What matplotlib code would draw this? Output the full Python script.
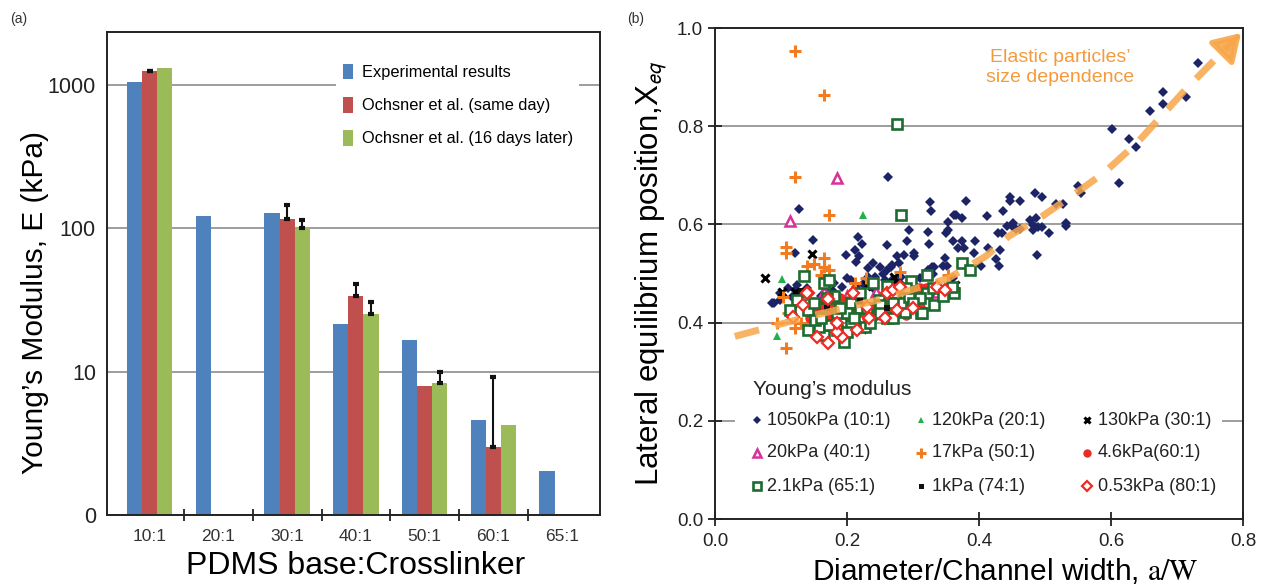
import numpy as np
import matplotlib
matplotlib.use("Agg")
import matplotlib.pyplot as plt
from matplotlib.patches import Patch, Rectangle

plt.rcParams["font.family"] = ["Liberation Sans", "DejaVu Sans"]
plt.rcParams["mathtext.fontset"] = "stix"

# ---------------- panel (a) data ----------------
ratios = ["10:1", "20:1", "30:1", "40:1", "50:1", "60:1", "65:1"]
experimental = [1050, 122, 129, 21.4, 16.7, 4.6, 2.04]
same_day = [1250, np.nan, 117, 34, 7.9, 2.96, np.nan]
same_day_err = [15, np.nan, 28, 7, 0, 6.3, np.nan]
later16 = [1310, np.nan, 100, 25.3, 8.4, 4.24, np.nan]
later16_err = [0, np.nan, 14, 5.2, 1.5, 0, np.nan]

# ---------------- panel (b) data ----------------
e1050_x = [0.732, 0.679, 0.679, 0.659, 0.714, 0.602, 0.627, 0.638, 0.612, 0.550, 0.555,
           0.262, 0.127, 0.326, 0.327, 0.380, 0.412, 0.436, 0.447, 0.447, 0.462, 0.485,
           0.495, 0.517, 0.527, 0.477, 0.486, 0.532, 0.532, 0.489, 0.506, 0.452, 0.456,
           0.435, 0.429, 0.432, 0.488, 0.353, 0.362, 0.365, 0.374, 0.353, 0.350, 0.323,
           0.294, 0.291, 0.324, 0.361, 0.374, 0.394, 0.368, 0.377, 0.392, 0.413, 0.403,
           0.430, 0.425, 0.348, 0.346, 0.351, 0.302, 0.302, 0.286, 0.276, 0.260, 0.216,
           0.222, 0.212, 0.198, 0.218, 0.213, 0.148, 0.121, 0.328, 0.332, 0.322, 0.279,
           0.267, 0.260, 0.255, 0.257, 0.243, 0.268, 0.281, 0.231, 0.224, 0.213, 0.206,
           0.193, 0.178, 0.169, 0.160, 0.299, 0.089, 0.099, 0.121, 0.135, 0.086, 0.098,
           0.111, 0.124, 0.117, 0.232, 0.239, 0.250, 0.268, 0.452, 0.442, 0.462, 0.482,
           0.482, 0.495, 0.140, 0.180, 0.200, 0.240, 0.280, 0.310, 0.330, 0.360]
e1050_y = [0.929, 0.870, 0.845, 0.831, 0.859, 0.794, 0.774, 0.758, 0.684, 0.678, 0.664,
           0.696, 0.631, 0.645, 0.627, 0.648, 0.617, 0.627, 0.656, 0.648, 0.648, 0.664,
           0.656, 0.642, 0.642, 0.609, 0.613, 0.603, 0.596, 0.595, 0.582, 0.595, 0.590,
           0.582, 0.582, 0.548, 0.538, 0.605, 0.619, 0.619, 0.613, 0.589, 0.582, 0.584,
           0.589, 0.566, 0.560, 0.566, 0.566, 0.566, 0.552, 0.552, 0.541, 0.552, 0.515,
           0.515, 0.530, 0.531, 0.515, 0.515, 0.541, 0.535, 0.538, 0.535, 0.559, 0.575,
           0.561, 0.547, 0.538, 0.535, 0.524, 0.569, 0.541, 0.513, 0.513, 0.507, 0.521,
           0.513, 0.507, 0.500, 0.486, 0.493, 0.486, 0.493, 0.493, 0.479, 0.472, 0.486,
           0.472, 0.465, 0.472, 0.455, 0.473, 0.440, 0.447, 0.466, 0.460, 0.440, 0.460,
           0.470, 0.477, 0.452, 0.511, 0.521, 0.513, 0.517, 0.603, 0.597, 0.591, 0.599,
           0.589, 0.595, 0.470, 0.480, 0.490, 0.470, 0.480, 0.490, 0.500, 0.490]

e120_x = [0.224, 0.101, 0.094, 0.140, 0.165, 0.210, 0.255, 0.190, 0.300]
e120_y = [0.619, 0.489, 0.373, 0.452, 0.470, 0.468, 0.462, 0.445, 0.455]

e130_x = [0.076, 0.147, 0.271, 0.364, 0.230, 0.238, 0.101, 0.117, 0.121, 0.223, 0.268, 0.160]
e130_y = [0.491, 0.540, 0.493, 0.477, 0.477, 0.475, 0.462, 0.426, 0.463, 0.387, 0.478, 0.390]

e20_x = [0.185, 0.114, 0.165, 0.244, 0.336, 0.200]
e20_y = [0.695, 0.607, 0.463, 0.463, 0.463, 0.455]

e17_x = [0.121, 0.165, 0.121, 0.173, 0.108, 0.108, 0.139, 0.165, 0.165, 0.173, 0.229,
         0.280, 0.103, 0.094, 0.108, 0.121, 0.212, 0.353, 0.160, 0.150, 0.130, 0.110]
e17_y = [0.953, 0.864, 0.696, 0.619, 0.554, 0.542, 0.515, 0.531, 0.513, 0.507, 0.491,
         0.503, 0.452, 0.399, 0.348, 0.389, 0.481, 0.497, 0.497, 0.520, 0.400, 0.420]

e46_x = [0.144, 0.154, 0.164, 0.174, 0.184, 0.194, 0.202, 0.210, 0.220, 0.230, 0.240,
         0.250, 0.260, 0.270, 0.280, 0.290, 0.300, 0.311, 0.200, 0.190, 0.159, 0.280,
         0.290, 0.306, 0.311, 0.170, 0.210, 0.190, 0.230, 0.260, 0.160, 0.175, 0.180,
         0.200, 0.215, 0.235, 0.245, 0.265, 0.275, 0.300, 0.320, 0.290, 0.310]
e46_y = [0.409, 0.419, 0.426, 0.422, 0.426, 0.429, 0.432, 0.429, 0.422, 0.412, 0.412,
         0.415, 0.422, 0.422, 0.429, 0.432, 0.436, 0.432, 0.415, 0.419, 0.436, 0.470,
         0.470, 0.470, 0.470, 0.440, 0.440, 0.450, 0.409, 0.455, 0.410, 0.405, 0.440,
         0.445, 0.445, 0.430, 0.430, 0.440, 0.450, 0.455, 0.470, 0.415, 0.420]

e21_x = [0.276, 0.282, 0.374, 0.386, 0.135, 0.165, 0.362, 0.312, 0.288, 0.195, 0.165,
         0.141, 0.321, 0.321, 0.297, 0.206, 0.158, 0.185, 0.261, 0.206, 0.185, 0.141,
         0.124, 0.173, 0.239, 0.271, 0.282, 0.332, 0.359, 0.227, 0.152, 0.173, 0.200,
         0.248, 0.294, 0.114, 0.313, 0.220, 0.250, 0.180, 0.150, 0.170, 0.190, 0.210,
         0.230, 0.250, 0.270, 0.290, 0.310, 0.330, 0.160, 0.220, 0.260, 0.300, 0.345,
         0.200, 0.235, 0.270]
e21_y = [0.804, 0.619, 0.521, 0.507, 0.495, 0.481, 0.460, 0.419, 0.422, 0.360, 0.375,
         0.385, 0.460, 0.497, 0.484, 0.395, 0.391, 0.385, 0.409, 0.440, 0.419, 0.426,
         0.446, 0.487, 0.481, 0.460, 0.440, 0.436, 0.473, 0.391, 0.405, 0.395, 0.419,
         0.446, 0.453, 0.426, 0.419, 0.430, 0.435, 0.455, 0.440, 0.450, 0.430, 0.410,
         0.430, 0.420, 0.440, 0.470, 0.450, 0.470, 0.410, 0.460, 0.475, 0.440, 0.455,
         0.380, 0.400, 0.410]

e1_x = [0.130, 0.220, 0.260, 0.170]
e1_y = [0.465, 0.445, 0.430, 0.430]

e053_x = [0.141, 0.171, 0.154, 0.171, 0.192, 0.185, 0.215, 0.118, 0.209, 0.139, 0.133,
          0.230, 0.233, 0.258, 0.260, 0.270, 0.280, 0.336, 0.348, 0.276, 0.300, 0.185]
e053_y = [0.460, 0.448, 0.371, 0.359, 0.371, 0.381, 0.385, 0.412, 0.460, 0.460, 0.436,
          0.432, 0.409, 0.409, 0.460, 0.467, 0.473, 0.473, 0.466, 0.426, 0.429, 0.399]

# hand-drawn trend guide
guide_x = [0.030, 0.135, 0.250, 0.353, 0.410, 0.445, 0.495, 0.550, 0.590, 0.640, 0.713, 0.775]
guide_y = [0.372, 0.410, 0.447, 0.490, 0.535, 0.576, 0.616, 0.667, 0.706, 0.767, 0.875, 0.960]
guide_tip = (0.797, 0.990)

BLUE, RED, GREEN = "#4f81bd", "#c0504d", "#9bbb59"
ORANGE_GUIDE = "#f7a64a"
GRID = "#8c8c8c"

fig = plt.figure(figsize=(12.62, 5.88), dpi=100)
fig.patch.set_facecolor("white")

# ================= panel (a) =================
ax = fig.add_axes([0.0848, 0.1241, 0.3906, 0.8215])
xpos = np.arange(len(ratios))
w = 0.22
series = [(experimental, None, BLUE, -w), (same_day, same_day_err, RED, 0.0),
          (later16, later16_err, GREEN, w)]
for vals, errs, col, off in series:
    vals = np.array(vals, float)
    ok = ~np.isnan(vals)
    ax.bar(xpos[ok] + off, vals[ok], width=w, color=col, zorder=2)
    if errs is not None:
        errs = np.array(errs, float)
        m = ok & (errs > 0)
        ax.errorbar(xpos[m] + off, vals[m], yerr=[np.zeros(m.sum()), errs[m]],
                    fmt="none", ecolor="#111111", elinewidth=1.5, capsize=2.2,
                    capthick=3, zorder=3)
ax.set_yscale("log")
ax.set_ylim(1, 2350)
ax.set_xlim(-0.62, 6.55)
ax.set_yticks([1, 10, 100, 1000])
ax.set_yticklabels(["0", "10", "100", "1000"])
ax.yaxis.set_minor_locator(matplotlib.ticker.NullLocator())
ax.tick_params(axis="y", length=0, labelsize=15.5, pad=8, colors="#222222")
ax.set_xticks(xpos)
ax.set_xticklabels(ratios)
ax.set_xticks(xpos[:-1] + 0.5, minor=True)
ax.tick_params(axis="x", which="major", length=0, labelsize=12.5, pad=10, colors="#333333")
ax.tick_params(axis="x", which="minor", length=9, width=1.3, direction="inout", color="#222222")
ax.yaxis.grid(True, color=GRID, linewidth=1.2, zorder=0)
ax.set_axisbelow(True)
for s in ax.spines.values():
    s.set_linewidth(1.4)
    s.set_color("#222222")
ax.set_xlabel("PDMS base:Crosslinker", fontsize=23)
ax.xaxis.set_label_coords(0.505, -0.075)
ax.set_ylabel("Young\u2019s Modulus, E (kPa)", fontsize=21.5)
ax.yaxis.set_label_coords(-0.118, 0.44)
handles = [Patch(facecolor=BLUE, label="Experimental results"),
           Patch(facecolor=RED, label="Ochsner et al. (same day)"),
           Patch(facecolor=GREEN, label="Ochsner et al. (16 days later)")]
leg = ax.legend(handles=handles, loc="upper right", bbox_to_anchor=(0.975, 0.965),
                fontsize=11.8, frameon=True, facecolor="white", edgecolor="none",
                framealpha=1, handlelength=0.6, handleheight=1.1, handletextpad=0.55,
                labelspacing=1.02, borderpad=0.4, fancybox=False)
leg.set_zorder(5)
fig.text(0.008, 0.968, "(a)", fontsize=10, color="#333333", va="center")

# ================= panel (b) =================
bx = fig.add_axes([0.5666, 0.1173, 0.4184, 0.835])
bx.set_xlim(0, 0.8)
bx.set_ylim(0, 1.0)
bx.set_xticks([0, 0.2, 0.4, 0.6, 0.8])
bx.set_xticklabels(["0.0", "0.2", "0.4", "0.6", "0.8"])
bx.set_yticks([0, 0.2, 0.4, 0.6, 0.8, 1.0])
bx.set_yticklabels(["0.0", "0.2", "0.4", "0.6", "0.8", "1.0"])
bx.tick_params(axis="both", direction="inout", length=10, width=1.3, labelsize=13.5,
               colors="#222222")
bx.tick_params(axis="x", pad=5)
for yv in [0.2, 0.4, 0.6, 0.8]:
    bx.axhline(yv, color=GRID, linewidth=1.2, zorder=0)
for s in bx.spines.values():
    s.set_linewidth(1.4)
    s.set_color("#222222")

styles = [
    ("1050kPa (10:1)", e1050_x, e1050_y, dict(marker="D", color="#1c2466", ms=5, mew=0)),
    ("120kPa (20:1)", e120_x, e120_y, dict(marker="^", color="#22b04b", ms=6, mew=0)),
    ("130kPa (30:1)", e130_x, e130_y, dict(marker="x", color="#000000", ms=6, mew=2.2)),
    ("20kPa (40:1)", e20_x, e20_y, dict(marker="^", mfc="white", mec="#d9309c", ms=7.5, mew=1.8)),
    ("17kPa (50:1)", e17_x, e17_y, dict(marker="+", color="#f27b1f", ms=9, mew=2.2)),
    ("4.6kPa(60:1)", e46_x, e46_y, dict(marker="o", color="#ee2a24", ms=7.5, mew=0)),
    ("2.1kPa (65:1)", e21_x, e21_y, dict(marker="s", mfc="white", mec="#1e6b30", ms=7.5, mew=1.9)),
    ("1kPa (74:1)", e1_x, e1_y, dict(marker="s", color="#111111", ms=4.5, mew=0)),
    ("0.53kPa (80:1)", e053_x, e053_y, dict(marker="D", mfc="white", mec="#ee2a24", ms=6.5, mew=1.6)),
]
draw_order = [0, 1, 2, 3, 4, 6, 7, 5, 8]
for i in draw_order:
    name, xs, ys, kw = styles[i]
    bx.plot(xs, ys, ls="none", zorder=3 + i * 0.01, **kw)

bx.plot(guide_x, guide_y, color=ORANGE_GUIDE, lw=5, alpha=0.85,
        dashes=(3.6, 2.4), solid_capstyle="butt", dash_capstyle="butt", zorder=4)
bx.annotate("", xy=guide_tip, xytext=(guide_x[-1], guide_y[-1]),
            arrowprops=dict(arrowstyle="-|>,head_length=0.8,head_width=0.5",
                            color=ORANGE_GUIDE, lw=4, alpha=0.9, shrinkA=0, shrinkB=0,
                            mutation_scale=20), zorder=4)
bx.text(0.523, 0.92, "Elastic particles\u2019\nsize dependence", color="#f59a3c",
        fontsize=14, ha="center", va="center", linespacing=1.2)

# legend laid out on a fixed 3-column grid (axes fraction)
bx.add_patch(Rectangle((0.038, 0.03), 0.922, 0.27, transform=bx.transAxes,
                       facecolor="white", edgecolor="none", zorder=6))
bx.text(0.072, 0.263, "Young\u2019s modulus", transform=bx.transAxes, fontsize=15,
        ha="left", va="center", color="#222222", zorder=7)
col_mark = [0.079, 0.390, 0.704]
col_text = [0.098, 0.411, 0.725]
row_y = [0.2016, 0.135, 0.067]
for k, i in enumerate(range(9)):
    name, xs, ys, kw = styles[i]
    r, c = divmod(k, 3)
    kk = dict(kw)
    kk["ms"] = kk["ms"] * 0.8
    bx.plot([col_mark[c]], [row_y[r]], ls="none", transform=bx.transAxes,
            clip_on=False, zorder=7, **kk)
    bx.text(col_text[c], row_y[r], name, transform=bx.transAxes, fontsize=13,
            ha="left", va="center", color="#222222", zorder=7)

bx.set_xlabel("Diameter/Channel width, $\\mathrm{a/W}$", fontsize=21.5)
bx.xaxis.set_label_coords(0.55, -0.076)
bx.set_ylabel("Lateral equilibrium position,X$_{\\mathsf{eq}}$", fontsize=22.5)
bx.yaxis.set_label_coords(-0.088, 0.5)
fig.text(0.497, 0.968, "(b)", fontsize=10, color="#333333", va="center")

fig.savefig("out.png", dpi=100, facecolor="white")
